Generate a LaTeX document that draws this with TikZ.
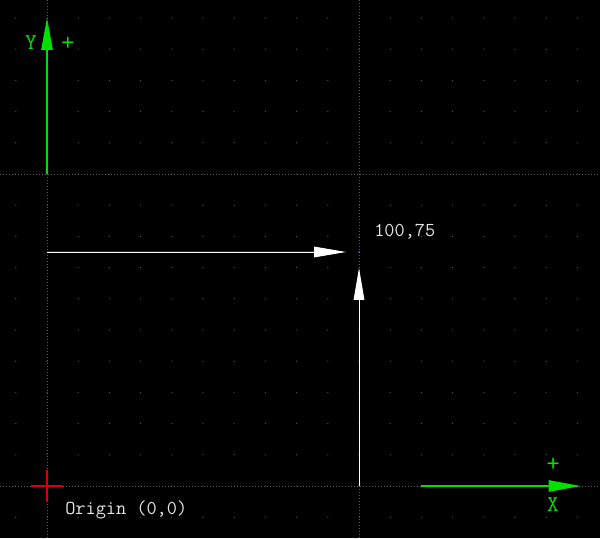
\documentclass[tikz,border=0pt]{standalone}
\usepackage{fontspec}
\usetikzlibrary{arrows.meta,positioning}
\definecolor{axisgreen}{RGB}{0,225,0}
\definecolor{dotgray}{RGB}{95,95,95}
\tikzset{
  ptarr/.style={-{Triangle[length=24pt,width=8pt]}, draw=white, fill=white, line width=0.7pt},
  axisarr/.style={-{Triangle[length=24pt,width=8.6pt]}, draw=axisgreen, fill=axisgreen, line width=1pt},
  majorline/.style={draw=dotgray, line width=0.6pt, dash pattern=on 0.75pt off 1.5pt},
}
\begin{document}
\begin{tikzpicture}[
  x=2.34pt, y=2.34pt,
  font=\ttfamily\fontsize{14.8}{16}\selectfont,
  lbl/.style={text=white!90!black, inner sep=0pt},
  axlbl/.style={text=axisgreen, inner sep=0pt, font=\ttfamily\fontsize{17}{18}\selectfont},
  pluslbl/.style={axlbl, font=\ttfamily\fontsize{19}{20}\selectfont},
]
  \path[use as bounding box, fill=black] (-15.064,-16.667) rectangle (177.24,155.77);
  \foreach \gx in {-10,0,...,170}
    \foreach \gy in {-10,0,...,150}
      \fill[dotgray] (\gx,\gy) circle[radius=0.45pt];
  \foreach \gv in {0,100} {
    \draw[majorline] (\gv,-16.667) -- (\gv,155.77);
    \draw[majorline] (-15.064,\gv) -- (177.24,\gv);
  }
  \coordinate (O) at (0,0);
  \coordinate (P) at (100,75);
  \coordinate (yp) at (0,75);
  \coordinate (xp) at (100,0);
  \coordinate (ybase) at (0,100);
  \coordinate (ytip) at (0,150);
  \coordinate (xbase) at (120,0);
  \coordinate (xtip) at (171,0);
  \draw[red!85!black, line width=1pt] ([xshift=-12pt]O) -- ([xshift=12pt]O)
    ([yshift=-12pt]O) -- ([yshift=12pt]O);
  \draw[ptarr, shorten >=9.75pt] (yp) -- (P);
  \draw[ptarr, shorten >=12pt] (xp) -- (P);
  \fill[cyan] (P) circle[radius=0.7pt];
  \draw[axisarr] (ybase) -- (ytip);
  \draw[axisarr] (xbase) -- (xtip);
  \node[lbl, above right=9pt and 11.25pt of P] (ptlbl) {100,75};
  \node[lbl, below right=11.25pt and 13.5pt of O] (orglbl) {Origin (0,0)};
  \node[axlbl] (ylbl) at ([xshift=-12pt,yshift=-18.75pt]ytip) {Y};
  \node[pluslbl] (yplus) at ([xshift=15.75pt,yshift=-19.5pt]ytip) {+};
  \node[axlbl] (xlbl) at ([xshift=-20.6pt,yshift=-14.25pt]xtip) {X};
  \node[pluslbl] (xplus) at ([xshift=-20.6pt,yshift=15.75pt]xtip) {+};
\end{tikzpicture}
\end{document}
